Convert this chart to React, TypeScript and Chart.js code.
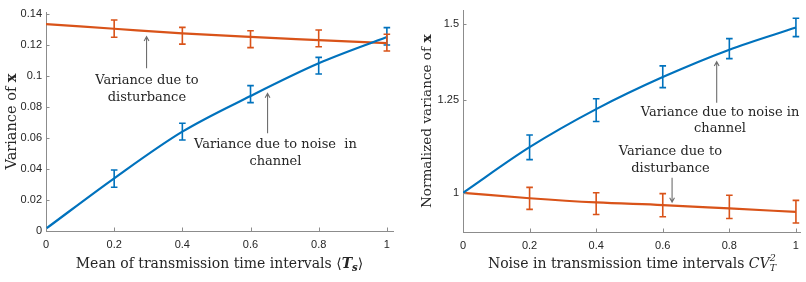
import React, { useEffect, useRef } from 'react';
import { Chart, registerables } from 'chart.js';
Chart.register(...registerables);

// ---------- data ----------
const xValues = [0, 0.2, 0.4, 0.6, 0.8, 1];
const xTicks = [0, 0.2, 0.4, 0.6, 0.8, 1];

const leftYTicks = [0, 0.02, 0.04, 0.06, 0.08, 0.1, 0.12, 0.14];
const leftDisturbance = [0.1335, 0.1305, 0.1275, 0.1252, 0.1232, 0.1212];
const leftDisturbanceLow = [null, 0.125, 0.1206, 0.1183, 0.1189, 0.1161];
const leftDisturbanceHigh = [null, 0.1361, 0.1314, 0.1292, 0.1297, 0.1269];
const leftNoise = [0.0015, 0.034, 0.0641, 0.0871, 0.1082, 0.1252];
const leftNoiseLow = [null, 0.0282, 0.0587, 0.0828, 0.1013, 0.12];
const leftNoiseHigh = [null, 0.0394, 0.0695, 0.0938, 0.112, 0.1312];

const rightYTicks = [1, 1.25, 1.5];
const rightNoise = [1.0, 1.116, 1.223, 1.321, 1.411, 1.488];
const rightNoiseLow = [null, 1.083, 1.187, 1.288, 1.381, 1.456];
const rightNoiseHigh = [null, 1.149, 1.254, 1.357, 1.449, 1.522];
const rightDisturbance = [1.0, 0.987, 0.977, 0.971, 0.963, 0.955];
const rightDisturbanceLow = [null, 0.961, 0.949, 0.944, 0.94, 0.93];
const rightDisturbanceHigh = [null, 1.013, 1.0, 0.998, 0.994, 0.982];

// ---------- styles ----------
const BLUE = '#0072BD';
const ORANGE = '#D95319';
const AXIS = '#8c8c8c';
const TEXT = '#262626';
const SERIF = 'DejaVu Serif';
const TITLE_SIZE = 14;
const LEFT_YTITLE_SIZE = 14.5;
const RIGHT_YTITLE_SIZE = 13.6;
const ANN_SIZE = 13;
const TICK_FONT = { family: 'Liberation Sans', size: 11 };

type Seg =
  | { t: string; font: string; dy?: number }
  | { sup: string; sub: string; font: string; supDy: number; subDy: number };

function segWidth(ctx: CanvasRenderingContext2D, s: Seg) {
  ctx.font = s.font;
  if ('t' in s) return ctx.measureText(s.t).width;
  return Math.max(ctx.measureText(s.sup).width, ctx.measureText(s.sub).width);
}

function drawRich(ctx: CanvasRenderingContext2D, segs: Seg[], cx: number, baseline: number) {
  let w = 0;
  for (const s of segs) w += segWidth(ctx, s);
  let x = cx - w / 2;
  ctx.textAlign = 'left';
  ctx.textBaseline = 'alphabetic';
  for (const s of segs) {
    const sw = segWidth(ctx, s);
    ctx.font = s.font;
    if ('t' in s) {
      ctx.fillText(s.t, x, baseline + (s.dy || 0));
    } else {
      ctx.fillText(s.sup, x, baseline + s.supDy);
      ctx.fillText(s.sub, x, baseline + s.subDy);
    }
    x += sw;
  }
}

const f = (style: string, size: number) => `${style} ${size}px "${SERIF}"`.trim();

const leftXTitle: Seg[] = [
  { t: 'Mean of transmission time intervals ', font: f('', TITLE_SIZE) },
  { t: '\u27E8', font: f('', TITLE_SIZE) },
  { t: 'T', font: f('italic bold', TITLE_SIZE) },
  { t: 's', font: f('italic bold', TITLE_SIZE * 0.72), dy: 3 },
  { t: '\u27E9', font: f('', TITLE_SIZE) },
];
const rightXTitle: Seg[] = [
  { t: 'Noise in transmission time intervals ', font: f('', TITLE_SIZE) },
  { t: 'CV', font: f('italic', TITLE_SIZE) },
  { sup: '2', sub: 'T', font: f('italic', TITLE_SIZE * 0.68), supDy: -6.5, subDy: 3 },
];
const leftYTitle: Seg[] = [
  { t: 'Variance of ', font: f('', LEFT_YTITLE_SIZE) },
  { t: 'x', font: f('bold', LEFT_YTITLE_SIZE) },
];
const rightYTitle: Seg[] = [
  { t: 'Normalized variance of ', font: f('', RIGHT_YTITLE_SIZE) },
  { t: 'x', font: f('bold', RIGHT_YTITLE_SIZE) },
];

type Ann = { x: number; y: number; lines: string[] };
type Arrow = { x1: number; y1: number; x2: number; y2: number };

const leftAnnotations: Ann[] = [
  { x: 0.296, y: 0.0915, lines: ['Variance due to', 'disturbance'] },
  { x: 0.673, y: 0.0503, lines: ['Variance due to noise  in', 'channel'] },
];
const leftArrows: Arrow[] = [
  { x1: 0.295, y1: 0.105, x2: 0.295, y2: 0.1254 },
  { x1: 0.65, y1: 0.063, x2: 0.65, y2: 0.0888 },
];
const rightAnnotations: Ann[] = [
  { x: 0.772, y: 1.19, lines: ['Variance due to noise in', 'channel'] },
  { x: 0.623, y: 1.082, lines: ['Variance due to', 'disturbance'] },
];
const rightArrows: Arrow[] = [
  { x1: 0.762, y1: 1.242, x2: 0.762, y2: 1.371 },
  { x1: 0.628, y1: 1.037, x2: 0.628, y2: 0.978 },
];

type ErrSet = { low: (number | null)[]; high: (number | null)[]; color: string };

function makeChart(
  canvas: HTMLCanvasElement,
  o: {
    series: { data: number[]; color: string }[];
    errs: ErrSet[];
    yType: 'linear' | 'logarithmic';
    yMin: number;
    yMax: number;
    yTicks: number[];
    xMax: number;
    yWidth: number;
    padding: { top: number; right: number; bottom: number; left: number };
    xTitle: Seg[];
    yTitle: Seg[];
    yTitleX: number;
    xTitleY: number;
    anns: Ann[];
    arrows: Arrow[];
  }
) {
  const plugin = {
    id: 'extras',
    afterDatasetsDraw(chart: any) {
      const ctx: CanvasRenderingContext2D = chart.ctx;
      const xs = chart.scales.x;
      const ys = chart.scales.y;
      ctx.save();
      for (const e of o.errs) {
        ctx.strokeStyle = e.color;
        ctx.lineWidth = 1.6;
        for (let i = 0; i < xValues.length; i++) {
          const lo = e.low[i];
          const hi = e.high[i];
          if (lo == null || hi == null) continue;
          const px = xs.getPixelForValue(xValues[i]);
          const p1 = ys.getPixelForValue(lo);
          const p2 = ys.getPixelForValue(hi);
          ctx.beginPath();
          ctx.moveTo(px, p1);
          ctx.lineTo(px, p2);
          ctx.moveTo(px - 3.3, p1);
          ctx.lineTo(px + 3.3, p1);
          ctx.moveTo(px - 3.3, p2);
          ctx.lineTo(px + 3.3, p2);
          ctx.stroke();
        }
      }
      ctx.restore();
    },
    afterDraw(chart: any) {
      const ctx: CanvasRenderingContext2D = chart.ctx;
      const xs = chart.scales.x;
      const ys = chart.scales.y;
      const area = chart.chartArea;
      ctx.save();
      ctx.strokeStyle = AXIS;
      ctx.lineWidth = 1;
      ctx.beginPath();
      for (const v of xTicks) {
        const px = Math.round(xs.getPixelForValue(v)) + 0.5;
        ctx.moveTo(px, area.bottom);
        ctx.lineTo(px, area.bottom - 3.5);
      }
      for (const v of o.yTicks) {
        const py = Math.round(ys.getPixelForValue(v)) + 0.5;
        ctx.moveTo(area.left, py);
        ctx.lineTo(area.left + 3.5, py);
      }
      ctx.stroke();
      ctx.strokeStyle = '#6e6e6e';
      ctx.lineWidth = 1.1;
      for (const a of o.arrows) {
        const x1 = xs.getPixelForValue(a.x1);
        const y1 = ys.getPixelForValue(a.y1);
        const x2 = xs.getPixelForValue(a.x2);
        const y2 = ys.getPixelForValue(a.y2);
        const ang = Math.atan2(y2 - y1, x2 - x1);
        const hl = 5;
        const hw = 0.5;
        ctx.beginPath();
        ctx.moveTo(x1, y1);
        ctx.lineTo(x2, y2);
        ctx.moveTo(x2 - hl * Math.cos(ang - hw), y2 - hl * Math.sin(ang - hw));
        ctx.lineTo(x2, y2);
        ctx.lineTo(x2 - hl * Math.cos(ang + hw), y2 - hl * Math.sin(ang + hw));
        ctx.stroke();
      }
      ctx.fillStyle = TEXT;
      ctx.font = f('', ANN_SIZE);
      ctx.textAlign = 'center';
      ctx.textBaseline = 'middle';
      for (const a of o.anns) {
        const px = xs.getPixelForValue(a.x);
        const py = ys.getPixelForValue(a.y);
        const lh = 16.3;
        const n = a.lines.length;
        a.lines.forEach((l, i) => {
          ctx.fillText(l, px, py + (i - (n - 1) / 2) * lh);
        });
      }
      ctx.fillStyle = TEXT;
      drawRich(ctx, o.xTitle, (area.left + area.right) / 2, o.xTitleY);
      ctx.save();
      ctx.translate(o.yTitleX, (area.top + area.bottom) / 2);
      ctx.rotate(-Math.PI / 2);
      drawRich(ctx, o.yTitle, 0, 0);
      ctx.restore();
      ctx.restore();
    },
  };

  return new Chart(canvas, {
    type: 'line',
    data: {
      datasets: o.series.map((s) => ({
        data: xValues.map((x, i) => ({ x, y: s.data[i] })),
        borderColor: s.color,
        borderWidth: 2.2,
        pointRadius: 0,
        fill: false,
        cubicInterpolationMode: 'monotone' as const,
      })),
    },
    options: {
      responsive: false,
      animation: false,
      devicePixelRatio: 1,
      layout: { padding: o.padding },
      plugins: { legend: { display: false }, tooltip: { enabled: false }, title: { display: false } },
      scales: {
        x: {
          type: 'linear',
          min: 0,
          max: o.xMax,
          afterBuildTicks: (s: any) => {
            s.ticks = xTicks.map((v) => ({ value: v }));
          },
          afterFit: (s: any) => {
            s.height = 30;
          },
          ticks: {
            font: TICK_FONT,
            color: TEXT,
            padding: 7,
            maxRotation: 0,
            autoSkip: false,
            callback: (v: any) => String(v),
          },
          grid: { display: false, drawTicks: false, tickLength: 0 },
          border: { display: true, color: AXIS, width: 1 },
        },
        y: {
          type: o.yType,
          min: o.yMin,
          max: o.yMax,
          afterBuildTicks: (s: any) => {
            s.ticks = o.yTicks.map((v) => ({ value: v }));
          },
          afterFit: (s: any) => {
            s.width = o.yWidth;
          },
          ticks: {
            font: TICK_FONT,
            color: TEXT,
            padding: 4,
            autoSkip: false,
            callback: (v: any) => String(v),
          },
          grid: { display: false, drawTicks: false, tickLength: 0 },
          border: { display: true, color: AXIS, width: 1 },
        },
      },
    },
    plugins: [plugin],
  } as any);
}

export default function App() {
  const leftRef = useRef<HTMLCanvasElement>(null);
  const rightRef = useRef<HTMLCanvasElement>(null);

  useEffect(() => {
    const c1 = makeChart(leftRef.current!, {
      series: [
        { data: leftNoise, color: BLUE },
        { data: leftDisturbance, color: ORANGE },
      ],
      errs: [
        { low: leftNoiseLow, high: leftNoiseHigh, color: BLUE },
        { low: leftDisturbanceLow, high: leftDisturbanceHigh, color: ORANGE },
      ],
      yType: 'linear',
      yMin: 0,
      yMax: 0.1413,
      yTicks: leftYTicks,
      xMax: 1.018,
      yWidth: 46,
      padding: { top: 12, right: 10, bottom: 21, left: 0 },
      xTitle: leftXTitle,
      yTitle: leftYTitle,
      yTitleX: 15.5,
      xTitleY: 267.5,
      anns: leftAnnotations,
      arrows: leftArrows,
    });
    const c2 = makeChart(rightRef.current!, {
      series: [
        { data: rightNoise, color: BLUE },
        { data: rightDisturbance, color: ORANGE },
      ],
      errs: [
        { low: rightNoiseLow, high: rightNoiseHigh, color: BLUE },
        { low: rightDisturbanceLow, high: rightDisturbanceHigh, color: ORANGE },
      ],
      yType: 'logarithmic',
      yMin: 0.91,
      yMax: 1.55,
      yTicks: rightYTicks,
      xMax: 1.015,
      yWidth: 60,
      padding: { top: 6, right: 1, bottom: 20, left: 0 },
      xTitle: rightXTitle,
      yTitle: rightYTitle,
      yTitleX: 28,
      xTitleY: 267.5,
      anns: rightAnnotations,
      arrows: rightArrows,
    });
    return () => {
      c1.destroy();
      c2.destroy();
    };
  }, []);

  return (
    <div style={{ position: 'absolute', left: 0, top: 0, width: 806, height: 282, background: '#fff' }}>
      <canvas ref={leftRef} width={403} height={282} style={{ position: 'absolute', left: 0, top: 0 }} />
      <canvas ref={rightRef} width={403} height={282} style={{ position: 'absolute', left: 403, top: 0 }} />
    </div>
  );
}
